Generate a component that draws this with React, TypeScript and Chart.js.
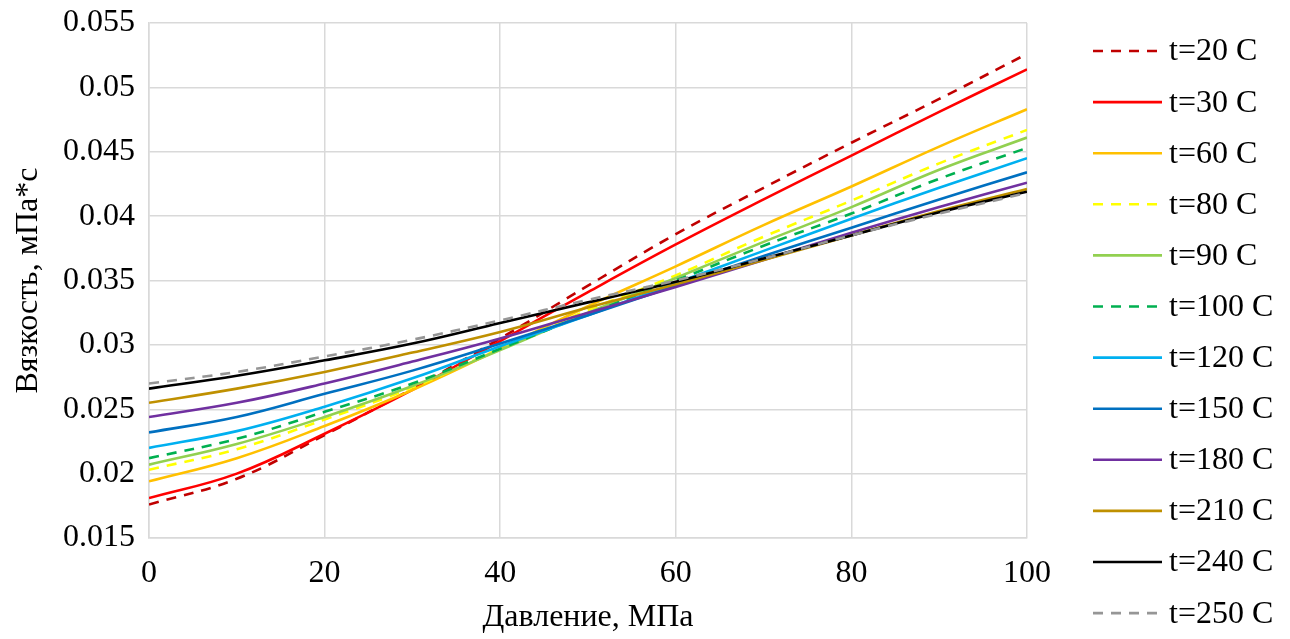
import React, { useEffect, useRef } from "react";
import { Chart, registerables } from "chart.js";

Chart.register(...registerables);

const pressures = [0, 10, 20, 30, 40, 50, 60, 70, 80, 90, 100];

const labels = [
  "t=20 C", "t=30 C", "t=60 C", "t=80 C", "t=90 C", "t=100 C",
  "t=120 C", "t=150 C", "t=180 C", "t=210 C", "t=240 C", "t=250 C",
];

const t20 = [0.0176, 0.0196, 0.0230, 0.0266, 0.0305, 0.0346, 0.0386, 0.0422, 0.0457, 0.0491, 0.0526];
const t30 = [0.0181, 0.0200, 0.0231, 0.0265, 0.0303, 0.0341, 0.0378, 0.0413, 0.0447, 0.0481, 0.0514];
const t60 = [0.0194, 0.0212, 0.0237, 0.0265, 0.0297, 0.0330, 0.0361, 0.0393, 0.0423, 0.0454, 0.0483];
const t80 = [0.0203, 0.0219, 0.0242, 0.0267, 0.0297, 0.0327, 0.0354, 0.0384, 0.0412, 0.0441, 0.0467];
const t90 = [0.0207, 0.0223, 0.0244, 0.0268, 0.0296, 0.0325, 0.0352, 0.0380, 0.0407, 0.0436, 0.0461];
const t100 = [0.0212, 0.0227, 0.0248, 0.0270, 0.0297, 0.0324, 0.0350, 0.0377, 0.0402, 0.0429, 0.0453];
const t120 = [0.0220, 0.0233, 0.0252, 0.0274, 0.0299, 0.0323, 0.0348, 0.0373, 0.0398, 0.0422, 0.0445];
const t150 = [0.0232, 0.0244, 0.0262, 0.0280, 0.0301, 0.0323, 0.0346, 0.0369, 0.0391, 0.0413, 0.0434];
const t180 = [0.0244, 0.0255, 0.0270, 0.0287, 0.0305, 0.0325, 0.0345, 0.0366, 0.0387, 0.0407, 0.0426];
const t210 = [0.0255, 0.0266, 0.0279, 0.0294, 0.0310, 0.0329, 0.0347, 0.0366, 0.0385, 0.0404, 0.0421];
const t240 = [0.0266, 0.0276, 0.0288, 0.0301, 0.0317, 0.0333, 0.0349, 0.0367, 0.0385, 0.0403, 0.0419];
const t250 = [0.0270, 0.0279, 0.0291, 0.0304, 0.0319, 0.0335, 0.0350, 0.0367, 0.0385, 0.0402, 0.0418];

const seriesValues = [t20, t30, t60, t80, t90, t100, t120, t150, t180, t210, t240, t250];
const colors = [
  "#C00000", "#FF0000", "#FFC000", "#FFFF00", "#92D050", "#00B050",
  "#00B0F0", "#0070C0", "#7030A0", "#BF9000", "#000000", "#969696",
];
const dashed = [true, false, false, true, false, true, false, false, false, false, false, true];

const xTicks = [0, 20, 40, 60, 80, 100];
const yMin = 0.015;
const yMax = 0.055;
const yStep = 0.005;

const FONT = "'Liberation Serif', 'Times New Roman', serif";

const legendPlugin = {
  id: "customLegend",
  afterDraw(chart: any) {
    const ctx = chart.ctx;
    ctx.save();
    chart.data.datasets.forEach((ds: any, i: number) => {
      const y = 51 + i * 51.1;
      ctx.beginPath();
      ctx.strokeStyle = ds.borderColor;
      ctx.lineWidth = ds.borderWidth;
      ctx.setLineDash(ds.borderDash || []);
      ctx.moveTo(1093, y);
      ctx.lineTo(1162, y);
      ctx.stroke();
      ctx.setLineDash([]);
      ctx.fillStyle = "#000";
      ctx.font = `32px ${FONT}`;
      ctx.textBaseline = "middle";
      ctx.textAlign = "left";
      ctx.fillText(ds.label, 1169, y + 1);
    });
    ctx.restore();
  },
};

export default function App() {
  const ref = useRef<HTMLCanvasElement>(null);
  useEffect(() => {
    const canvas = ref.current!;
    const chart = new Chart(canvas, {
      type: "line",
      data: {
        datasets: seriesValues.map((vals, i) => ({
          label: labels[i],
          data: vals.map((v, j) => ({ x: pressures[j], y: v })),
          borderColor: colors[i],
          backgroundColor: colors[i],
          borderWidth: 2.6,
          borderDash: dashed[i] ? [10, 8] : [],
          pointRadius: 0,
          fill: false,
          tension: 0.4,
          order: -i,
        })),
      },
      options: {
        responsive: false,
        animation: false,
        layout: { padding: { top: 23, right: 263, left: 0, bottom: 0 } },
        plugins: { legend: { display: false }, tooltip: { enabled: false } },
        scales: {
          x: {
            type: "linear",
            min: 0,
            max: 100,
            afterBuildTicks: (scale: any) => {
              scale.ticks = xTicks.map((v) => ({ value: v }));
            },
            afterFit: (scale: any) => {
              scale.height = 101;
              scale.paddingLeft = 0;
              scale.paddingRight = 0;
            },
            ticks: {
              font: { family: FONT, size: 32 },
              color: "#000",
              padding: 16,
              maxRotation: 0,
            },
            grid: { color: "#D9D9D9", lineWidth: 1.5, drawTicks: false },
            border: { color: "#D9D9D9", width: 1.5 },
            title: {
              display: true,
              text: "Давление, МПа",
              font: { family: FONT, size: 32 },
              color: "#000",
              padding: { top: 0, bottom: 2 },
            },
          },
          y: {
            type: "linear",
            min: yMin,
            max: yMax,
            ticks: {
              stepSize: yStep,
              font: { family: FONT, size: 32 },
              color: "#000",
              padding: 14,
              callback: (v: any) => String(Number(Number(v).toFixed(3))),
            },
            afterFit: (scale: any) => {
              scale.width = 149;
              scale.paddingTop = 0;
              scale.paddingBottom = 0;
            },
            grid: { color: "#D9D9D9", lineWidth: 1.5, drawTicks: false },
            border: { color: "#D9D9D9", width: 1.5 },
            title: {
              display: true,
              text: "Вязкость, мПа*с",
              font: { family: FONT, size: 32 },
              color: "#000",
              padding: { top: 9, bottom: 0 },
            },
          },
        },
      },
      plugins: [legendPlugin],
    });
    return () => chart.destroy();
  }, []);
  return (
    <div style={{ position: "fixed", left: 0, top: 0, width: 1290, height: 639, background: "#fff" }}>
      <canvas ref={ref} width={1290} height={639} style={{ width: 1290, height: 639, display: "block" }} />
    </div>
  );
}
